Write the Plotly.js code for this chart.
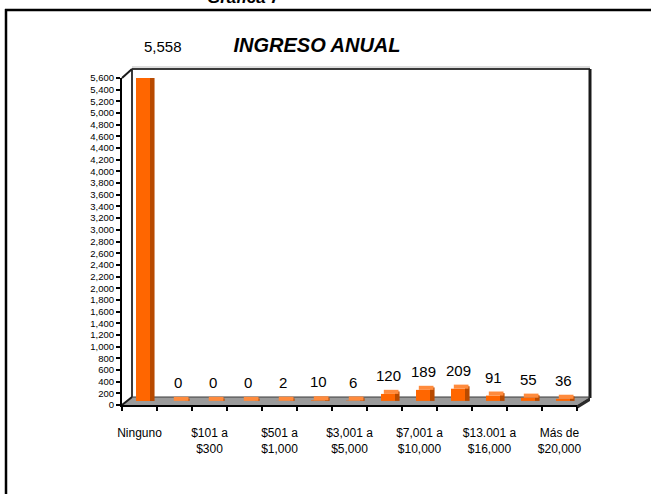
<!DOCTYPE html>
<html><head><meta charset="utf-8">
<script src="https://cdn.plot.ly/plotly-3.0.1.min.js"></script>
<style>html,body{margin:0;padding:0;background:#fff;}#chart{width:651px;height:494px;}</style>
</head><body><div id="chart"></div>
<script>
// ---- data ----
const categories = ["Ninguno","$1 a $100","$101 a $300","$301 a $500","$501 a $1,000","$1,001 a $3,000","$3,001 a $5,000","$5,001 a $7,000","$7,001 a $10,000","$10,001 a $13,000","$13.001 a $16,000","$16,001 a $20,000","Más de $20,000"];
const values = [5558, 0, 0, 0, 2, 10, 6, 120, 189, 209, 91, 55, 36];
const tickIndex = [0, 2, 4, 6, 8, 10, 12];
const tickLabels = ["Ninguno","$101 a<br>$300","$501 a<br>$1,000","$3,001 a<br>$5,000","$7,001 a<br>$10,000","$13.001 a<br>$16,000","Más de<br>$20,000"];

// ---- geometry helpers (pixel -> paper) ----
const W = 651, H = 494, L = 122, R = 577, T = 78, B = 405;
const X = p => (p - L) / (R - L);
const Y = p => (B - p) / (B - T);
const BASE = 70;   // depth shift of bars (3D look)
const TOPU = 70;   // thickness of top face
const idx = values.map((v, i) => i);

const frontTrace = {type:'bar', x: idx, y: values, base: BASE, width: 0.4, offset: -0.1, cliponaxis:false,
  marker:{color:'#FF6600', line:{width:0}}, hoverinfo:'skip', showlegend:false};
const sideTrace = {type:'bar', x: idx, y: values.map(v => v + TOPU*0.6), base: BASE, width: 0.13, offset: 0.3, cliponaxis:false,
  marker:{color:'#B84A00', line:{width:0}}, hoverinfo:'skip', showlegend:false};
const topTrace = {type:'bar', x: idx, y: values.map(() => TOPU), base: values.map(v => v + BASE), width: 0.42, offset: -0.02, cliponaxis:false,
  marker:{color:'#FF8B3D', line:{width:0}}, hoverinfo:'skip', showlegend:false};

const maxV = Math.max(...values);
const annotations = values.map((v, i) => ({
  x: i + 0.1, y: v, xref:'x', yref:'y', text: v.toLocaleString('en-US'),
  showarrow:false, yanchor:'bottom', yshift: v === maxV ? 23 : 12, xshift: v === maxV ? 20 : 0,
  font:{family:'Liberation Sans, Arial, sans-serif', size:15, color:'#000'}
}));
annotations.push({x: X(244), y: Y(9), xref:'paper', yref:'paper', text:'<b><i>Gráfica 7</i></b>',
  showarrow:false, yanchor:'bottom', xanchor:'center',
  font:{family:'Liberation Sans, Arial, sans-serif', size:17, color:'#000'}});

const line = (x0,y0,x1,y1,c,w) => ({type:'line', xref:'paper', yref:'paper', x0:X(x0), y0:Y(y0), x1:X(x1), y1:Y(y1), line:{color:c, width:w}, layer:'below'});
const poly = (pts, fill) => ({type:'path', xref:'paper', yref:'paper', layer:'below',
  path: 'M' + pts.map(p => X(p[0]) + ',' + Y(p[1])).join(' L') + ' Z', fillcolor: fill, line:{width:0}});

const shapes = [
  poly([[122,405],[577,405],[590,397],[132,397]], '#9A9A9A'),
  poly([[577,405],[590,397],[590,401],[577,409]], '#2A2A2A'),
  line(132,67,590,67,'#BBBBBB',1),
  line(132,69,590,69,'#3A3A3A',2),
  line(132,69,132,397,'#3A3A3A',2),
  line(590,69,590,398,'#1A1A1A',3),
  line(122,78,132,69,'#1A1A1A',2),
  line(122,405,132,397,'#1A1A1A',2),
  line(132,397,590,397,'#3A3A3A',1),
  // outer border (top and left edges visible)
  line(5,10,660,10,'#000',2.5),
  line(6,9,6,500,'#000',2.5)
];

const layout = {
  width: W, height: H, margin:{l:L, r:W-R, t:T, b:H-B, pad:0},
  paper_bgcolor:'#fff', plot_bgcolor:'rgba(0,0,0,0)', barmode:'overlay',
  font:{family:'Liberation Sans, Arial, sans-serif', color:'#000'},
  title:{text:'<b><i>INGRESO ANUAL</i></b>', xref:'paper', x: X(317), xanchor:'center', yref:'container', y: 1 - 45/H, yanchor:'middle',
    font:{family:'Liberation Sans, Arial, sans-serif', size:20, color:'#000'}},
  xaxis:{range:[-0.5, 12.5], showgrid:false, zeroline:false, showline:true, linecolor:'#000', linewidth:2,
    tickmode:'array', tickvals: tickIndex, ticktext: tickLabels, ticks:'', ticklabelstandoff: 16,
    tickfont:{size:12, color:'#000'},
    minor:{tickmode:'linear', tick0:-0.5, dtick:1, ticks:'outside', ticklen:4, tickwidth:2, tickcolor:'#000', showgrid:false}},
  yaxis:{range:[0, 5600], dtick:200, tick0:0, tickformat:',d', showgrid:false, zeroline:false, showline:true, linecolor:'#000', linewidth:2,
    ticks:'outside', ticklen:4, tickwidth:2, tickcolor:'#000', tickfont:{size:9.5, color:'#000'}},
  shapes, annotations
};

Plotly.newPlot('chart', [frontTrace, sideTrace, topTrace], layout, {staticPlot:true, displayModeBar:false});
</script></body></html>
